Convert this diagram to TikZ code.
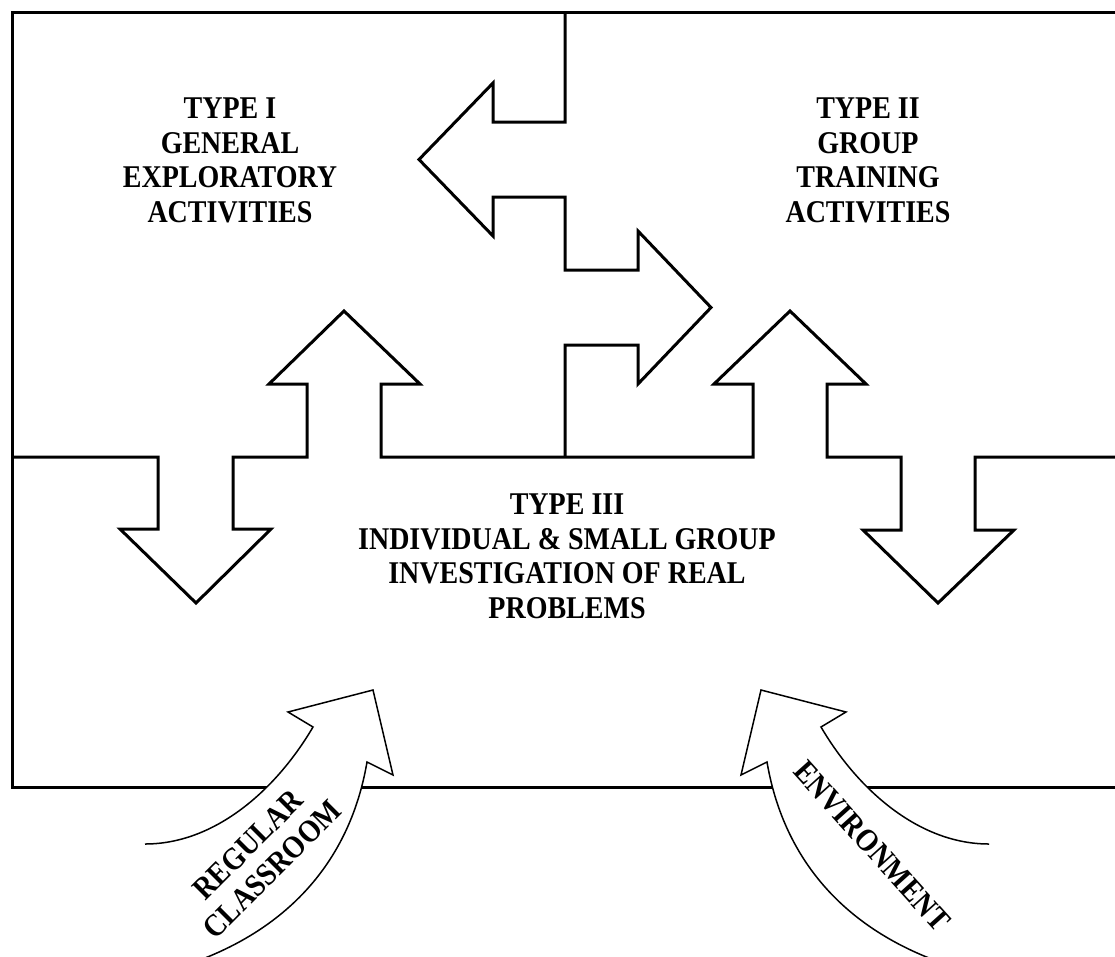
\documentclass[tikz,border=0pt]{standalone}
\usepackage{fontspec}
\setmainfont{Liberation Serif}
\begin{document}
\begin{tikzpicture}[x=1pt,y=-1pt,
  frame/.style={line width=3pt, line join=miter},
  bigarrow/.style={draw, fill=white, line width=1.5pt, line join=miter},
  lblbase/.style={font=\fontsize{28}{30.5}\selectfont\bfseries, align=center, inner sep=0pt},
  lbl/.style={lblbase, yscale=1.13}]
\useasboundingbox (0,0) rectangle (1115,956);
\fill[white] (0,0) rectangle (1115,956);
% outer frame (open at the right)
\draw[frame] (1116,12) -- (12,12) -- (12,787) -- (1116,787);
% vertical boundary between Type I and Type II with the two horizontal arrows
\draw[frame] (565,12) -- (565,122) -- (493,122) -- (493,83) -- (419,159.5) -- (493,236)
  -- (493,197) -- (565,197) -- (565,270) -- (638,270) -- (638,231) -- (711,307.5)
  -- (638,384) -- (638,345) -- (565,345) -- (565,457);
% horizontal boundary with the four vertical arrows
\draw[frame] (12,457) -- (158,457) -- (158,529) -- (120,529) -- (196,603) -- (271,529)
  -- (233,529) -- (233,457) -- (307,457) -- (307,384) -- (269,384) -- (344,311)
  -- (420,384) -- (381,384) -- (381,457) -- (753,457) -- (753,384) -- (714,384)
  -- (790,311) -- (866,384) -- (827,384) -- (827,457) -- (901,457) -- (901,530)
  -- (863,530) -- (938,603) -- (1014,530) -- (975,530) -- (975,457) -- (1116,457);
% curved arrows entering from below
\draw[bigarrow] (145,844) .. controls (215,844) and (276,790) .. (313,727) -- (288,712)
  -- (373,690) -- (393,775) -- (367,762) .. controls (352,850) and (300,920) .. (205,958);
\draw[bigarrow] (989,844) .. controls (919,844) and (858,790) .. (821,727) -- (846,712)
  -- (761,690) -- (741,775) -- (767,762) .. controls (782,850) and (834,920) .. (929,958);
% labels
\node[lbl, anchor=north] (t1) at (230,98) {TYPE I\\GENERAL\\EXPLORATORY\\ACTIVITIES};
\node[lbl, anchor=north] (t2) at (868,98) {TYPE II\\GROUP\\TRAINING\\ACTIVITIES};
\node[lbl, anchor=north] (t3) at (567,494) {TYPE III\\INDIVIDUAL \& SMALL GROUP\\INVESTIGATION OF REAL\\PROBLEMS};
\node[lblbase, rotate=45, yscale=1.13] (l1) at (260,857) {REGULAR\\CLASSROOM};
\node[lblbase, rotate=-48, yscale=1.13] (l2) at (872,846) {ENVIRONMENT};
\end{tikzpicture}
\end{document}
